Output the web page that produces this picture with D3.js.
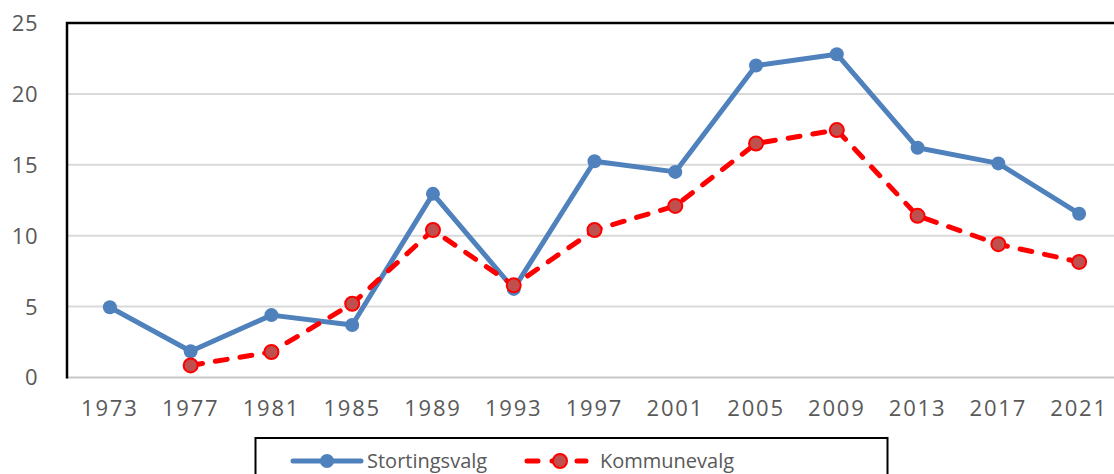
<!DOCTYPE html>
<html>
<head>
<meta charset="utf-8">
<script src="https://cdn.jsdelivr.net/npm/d3@7"></script>
<style>
  body { margin: 0; background: #fff; }
  text { font-family: "Open Sans", "Noto Sans", sans-serif; fill: #595959; }
</style>
</head>
<body>
<div id="chart"></div>
<script>
var years = ["1973", "1977", "1981", "1985", "1989", "1993", "1997", "2001", "2005", "2009", "2013", "2017", "2021"];
var stortingsvalg = [4.95, 1.85, 4.4, 3.7, 12.95, 6.25, 15.25, 14.5, 22.0, 22.8, 16.2, 15.1, 11.55];
var kommunevalg = [null, 0.85, 1.8, 5.2, 10.4, 6.5, 10.4, 12.1, 16.5, 17.45, 11.4, 9.4, 8.15];
var yTicks = [0, 5, 10, 15, 20, 25];

var width = 1114, height = 474;
var margin = { top: 23, right: -5, bottom: 97, left: 67 };

var svg = d3.select("#chart")
  .append("svg")
    .attr("width", width)
    .attr("height", height);

var x = d3.scalePoint()
    .domain(years)
    .range([margin.left + 2.5, width - margin.right + 0.5])
    .padding(0.5);

var y = d3.scaleLinear()
    .domain([0, 25])
    .range([height - margin.bottom + 0.5, margin.top]);

// gridlines
svg.append("g")
  .selectAll("line")
  .data(yTicks.slice(1))
  .enter().append("line")
    .attr("x1", margin.left)
    .attr("x2", width)
    .attr("y1", function(d) { return y(d); })
    .attr("y2", function(d) { return y(d); })
    .attr("stroke", "#d9d9d9")
    .attr("stroke-width", 2);

// x axis line (0)
svg.append("line")
  .attr("x1", margin.left)
  .attr("x2", width)
  .attr("y1", y(0))
  .attr("y2", y(0))
  .attr("stroke", "#c8c8c8")
  .attr("stroke-width", 2);

// frame left/top
svg.append("path")
  .attr("d", "M" + margin.left + "," + (y(0) + 1) + "V" + margin.top + "H" + width)
  .attr("fill", "none")
  .attr("stroke", "#000")
  .attr("stroke-width", 2.5);

// y axis labels
svg.append("g")
  .selectAll("text")
  .data(yTicks)
  .enter().append("text")
    .attr("x", 38)
    .attr("y", function(d) { return y(d); })
    .attr("dy", "0.36em")
    .attr("text-anchor", "end")
    .style("font-size", "22px")
    .style("letter-spacing", "0.5px")
    .text(function(d) { return d; });

// x axis labels
svg.append("g")
  .selectAll("text")
  .data(years)
  .enter().append("text")
    .attr("x", function(d) { return x(d); })
    .attr("y", 416)
    .attr("text-anchor", "middle")
    .style("font-size", "22px")
    .style("letter-spacing", "1.8px")
    .text(function(d) { return d; });

var line = d3.line()
    .defined(function(d) { return d.v != null; })
    .x(function(d) { return x(d.year); })
    .y(function(d) { return y(d.v); });

function series(vals) {
  return years.map(function(yr, i) { return { year: yr, v: vals[i] }; });
}

var sData = series(stortingsvalg);
var kData = series(kommunevalg);

svg.append("path")
  .datum(sData)
  .attr("d", line)
  .attr("fill", "none")
  .attr("stroke", "#4f81bd")
  .attr("stroke-width", 5)
  .attr("stroke-linejoin", "round");

svg.append("g")
  .selectAll("circle")
  .data(sData)
  .enter().append("circle")
    .attr("cx", function(d) { return x(d.year); })
    .attr("cy", function(d) { return y(d.v); })
    .attr("r", 7)
    .attr("fill", "#4f81bd");

svg.append("path")
  .datum(kData)
  .attr("d", line)
  .attr("fill", "none")
  .attr("stroke", "#ff0000")
  .attr("stroke-width", 5)
  .attr("stroke-dasharray", "12,13")
  .attr("stroke-linecap", "round");

svg.append("g")
  .selectAll("circle")
  .data(kData.filter(function(d) { return d.v != null; }))
  .enter().append("circle")
    .attr("cx", function(d) { return x(d.year); })
    .attr("cy", function(d) { return y(d.v); })
    .attr("r", 7)
    .attr("fill", "#c0504d")
    .attr("stroke", "#ff0000")
    .attr("stroke-width", 2);

// legend
var legend = svg.append("g");
legend.append("rect")
  .attr("x", 255.5)
  .attr("y", 438)
  .attr("width", 632)
  .attr("height", 80)
  .attr("fill", "#fff")
  .attr("stroke", "#000")
  .attr("stroke-width", 2);

var ly = 461;
legend.append("line")
  .attr("x1", 293).attr("x2", 361).attr("y1", ly).attr("y2", ly)
  .attr("stroke", "#4f81bd").attr("stroke-width", 5).attr("stroke-linecap", "round");
legend.append("circle")
  .attr("cx", 327).attr("cy", ly).attr("r", 7).attr("fill", "#4f81bd");
legend.append("text")
  .attr("x", 367).attr("y", ly).attr("dy", "0.36em")
  .style("font-size", "20px")
  .text("Stortingsvalg");

legend.append("line")
  .attr("x1", 527).attr("x2", 586).attr("y1", ly).attr("y2", ly)
  .attr("stroke", "#ff0000").attr("stroke-width", 5)
  .attr("stroke-dasharray", "11,14").attr("stroke-linecap", "round");
legend.append("circle")
  .attr("cx", 560).attr("cy", ly).attr("r", 7)
  .attr("fill", "#c0504d").attr("stroke", "#ff0000").attr("stroke-width", 2);
legend.append("text")
  .attr("x", 600).attr("y", ly).attr("dy", "0.36em")
  .style("font-size", "20px")
  .text("Kommunevalg");
</script>
</body>
</html>
